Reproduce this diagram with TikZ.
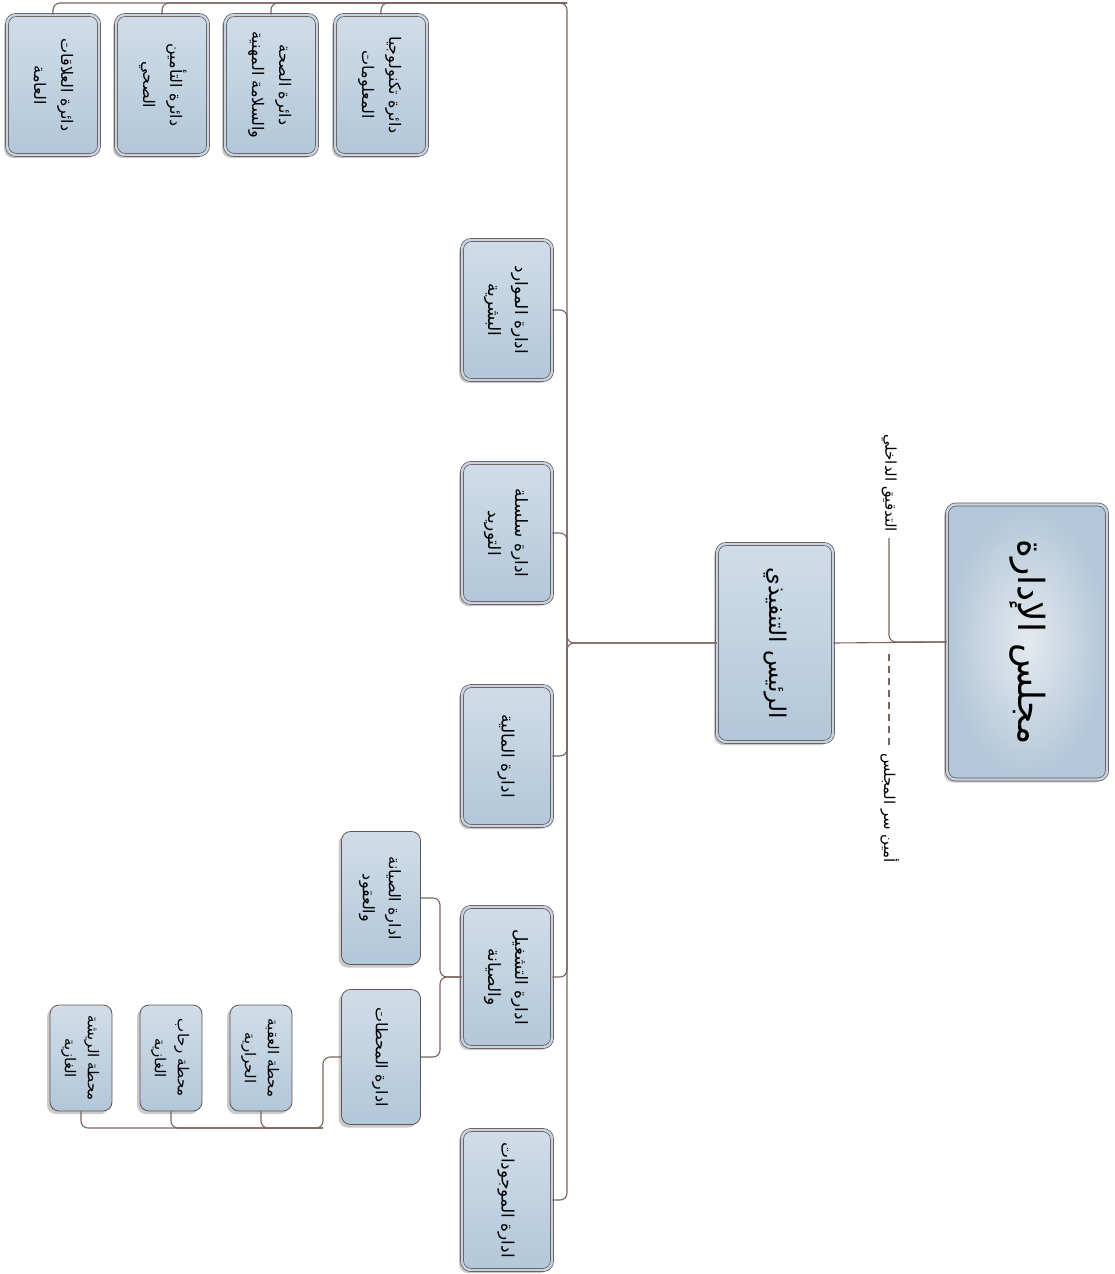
\documentclass[tikz,border=0pt]{standalone}
\usepackage{fontspec}
\usepackage{graphicx}
\usetikzlibrary{shadows}
\newfontfamily\arabicfont[Script=Arabic]{DejaVu Sans}
\TeXXeTstate=1
\definecolor{linkbrown}{RGB}{122,98,92}
\definecolor{edgebrown}{RGB}{100,84,80}
\definecolor{boxblue}{RGB}{178,199,217}
\definecolor{boxlight}{RGB}{208,221,232}
\definecolor{gapblue}{RGB}{196,212,226}
\definecolor{centrelight}{RGB}{228,233,238}
\newcommand{\arl}[1]{\beginR #1\endR}
\newcommand{\vtext}[1]{\rotatebox{-90}{\begin{tabular}{@{}c@{}}#1\end{tabular}}}
\tikzset{
  basebox/.style={rectangle, rounded corners=9pt, draw=edgebrown, line width=0.8pt,
    top color=boxlight, bottom color=boxblue, inner sep=0pt,
    drop shadow={shadow xshift=-3pt, shadow yshift=-3pt, fill=black!35, opacity=0.6},
    font=\arabicfont\fontsize{17}{27}\selectfont},
  unit/.style={basebox, line width=0.7pt, double=gapblue, double distance=2.4pt},
  topunit/.style={unit, minimum width=92pt, minimum height=140pt, font=\arabicfont\fontsize{16}{27}\selectfont},
  dept/.style={unit, minimum width=90pt, minimum height=140pt},
  station/.style={basebox, minimum width=62pt, minimum height=106pt, font=\arabicfont\fontsize{15}{23}\selectfont},
  side/.style={font=\arabicfont\fontsize{15}{18}\selectfont, inner sep=1pt},
  link/.style={draw=linkbrown, line width=1.1pt, rounded corners=7pt}
}
\begin{document}
\begin{tikzpicture}[x=1pt,y=-1pt]
\useasboundingbox (0,0) rectangle (1115,1274);
\node[unit, minimum width=160pt, minimum height=275pt, shading=radial, inner color=centrelight, outer color=boxblue,
  font=\arabicfont\fontsize{36}{42}\selectfont] (board) at (1027,642) {\vtext{\arl{مجلس الإدارة}}};
\node[unit, minimum width=116pt, minimum height=198pt, font=\arabicfont\fontsize{23}{28}\selectfont]
  (ceo) at (775,643) {\vtext{\arl{الرئيس التنفيذي}}};
\node[side] (audit) at (889,483) {\vtext{\arl{التدقيق الداخلي}}};
\node[side] (secretary) at (889,808) {\vtext{\arl{أمين سر المجلس}}};
\coordinate (hub) at (567,643);
\coordinate (topline) at (567,3);
\node[dept] (hr) at (507,310) {\vtext{\arl{ادارة الموارد}\\\arl{البشرية}}};
\node[dept] (supply) at (507,533) {\vtext{\arl{ادارة سلسلة}\\\arl{التوريد}}};
\node[dept] (fin) at (507,756) {\vtext{\arl{ادارة المالية}}};
\node[dept] (ops) at (507,977) {\vtext{\arl{ادارة التشغيل}\\\arl{والصيانة}}};
\node[dept] (assets) at (507,1200) {\vtext{\arl{ادارة الموجودات}}};
\node[topunit] (it) at (381,85) {\vtext{\arl{دائرة تكنولوجيا}\\\arl{المعلومات}}};
\node[topunit] (hse) at (271,85) {\vtext{\arl{دائرة الصحة}\\\arl{والسلامة المهنية}}};
\node[topunit] (ins) at (162,85) {\vtext{\arl{دائرة التأمين}\\\arl{الصحي}}};
\node[topunit] (pr) at (53,85) {\vtext{\arl{دائرة العلاقات}\\\arl{العامة}}};
\node[basebox, minimum width=79pt, minimum height=133pt, font=\arabicfont\fontsize{16}{26}\selectfont]
  (maint) at (381,898) {\vtext{\arl{ادارة الصيانة}\\\arl{والعقود}}};
\node[basebox, minimum width=79pt, minimum height=135pt, font=\arabicfont\fontsize{16}{26}\selectfont]
  (stations) at (381,1057) {\vtext{\arl{ادارة المحطات}}};
\node[station] (aqaba) at (261,1058) {\vtext{\arl{محطة العقبة}\\\arl{الحرارية}}};
\node[station] (rehab) at (171,1058) {\vtext{\arl{محطة رحاب}\\\arl{الغازية}}};
\node[station] (rish) at (81,1058) {\vtext{\arl{محطة الريشة}\\\arl{الغازية}}};
\coordinate (opsfork) at (440,977);
\coordinate (stfork) at (323,1128);
\draw[link] (ceo.east) -- (board.west);
\draw[link, shorten <=5pt] (audit.south) |- (board.west);
\draw[link, dash pattern=on 7pt off 5pt, rounded corners=0pt, shorten >=9pt, shorten <=7pt] (secretary.north) -- (secretary.north |- board.west);
\draw[link] (ceo.west) -- (hub) -- (topline) -| (pr.north);
\draw[link] (ceo.west) -- (hub) |- (assets.east);
\foreach \b in {it,hse,ins} \draw[link] (\b.north) |- (topline);
\foreach \b in {hr,supply,fin,ops} \draw[link] (\b.east) -| (hub);
\draw[link] (ops.west) -- (opsfork) |- (maint.east);
\draw[link] (ops.west) -- (opsfork) |- (stations.east);
\draw[link] (stations.west) -| (stfork) -| (rish.south);
\foreach \b in {aqaba,rehab} \draw[link] (\b.south) |- (stfork);
\end{tikzpicture}
\end{document}
